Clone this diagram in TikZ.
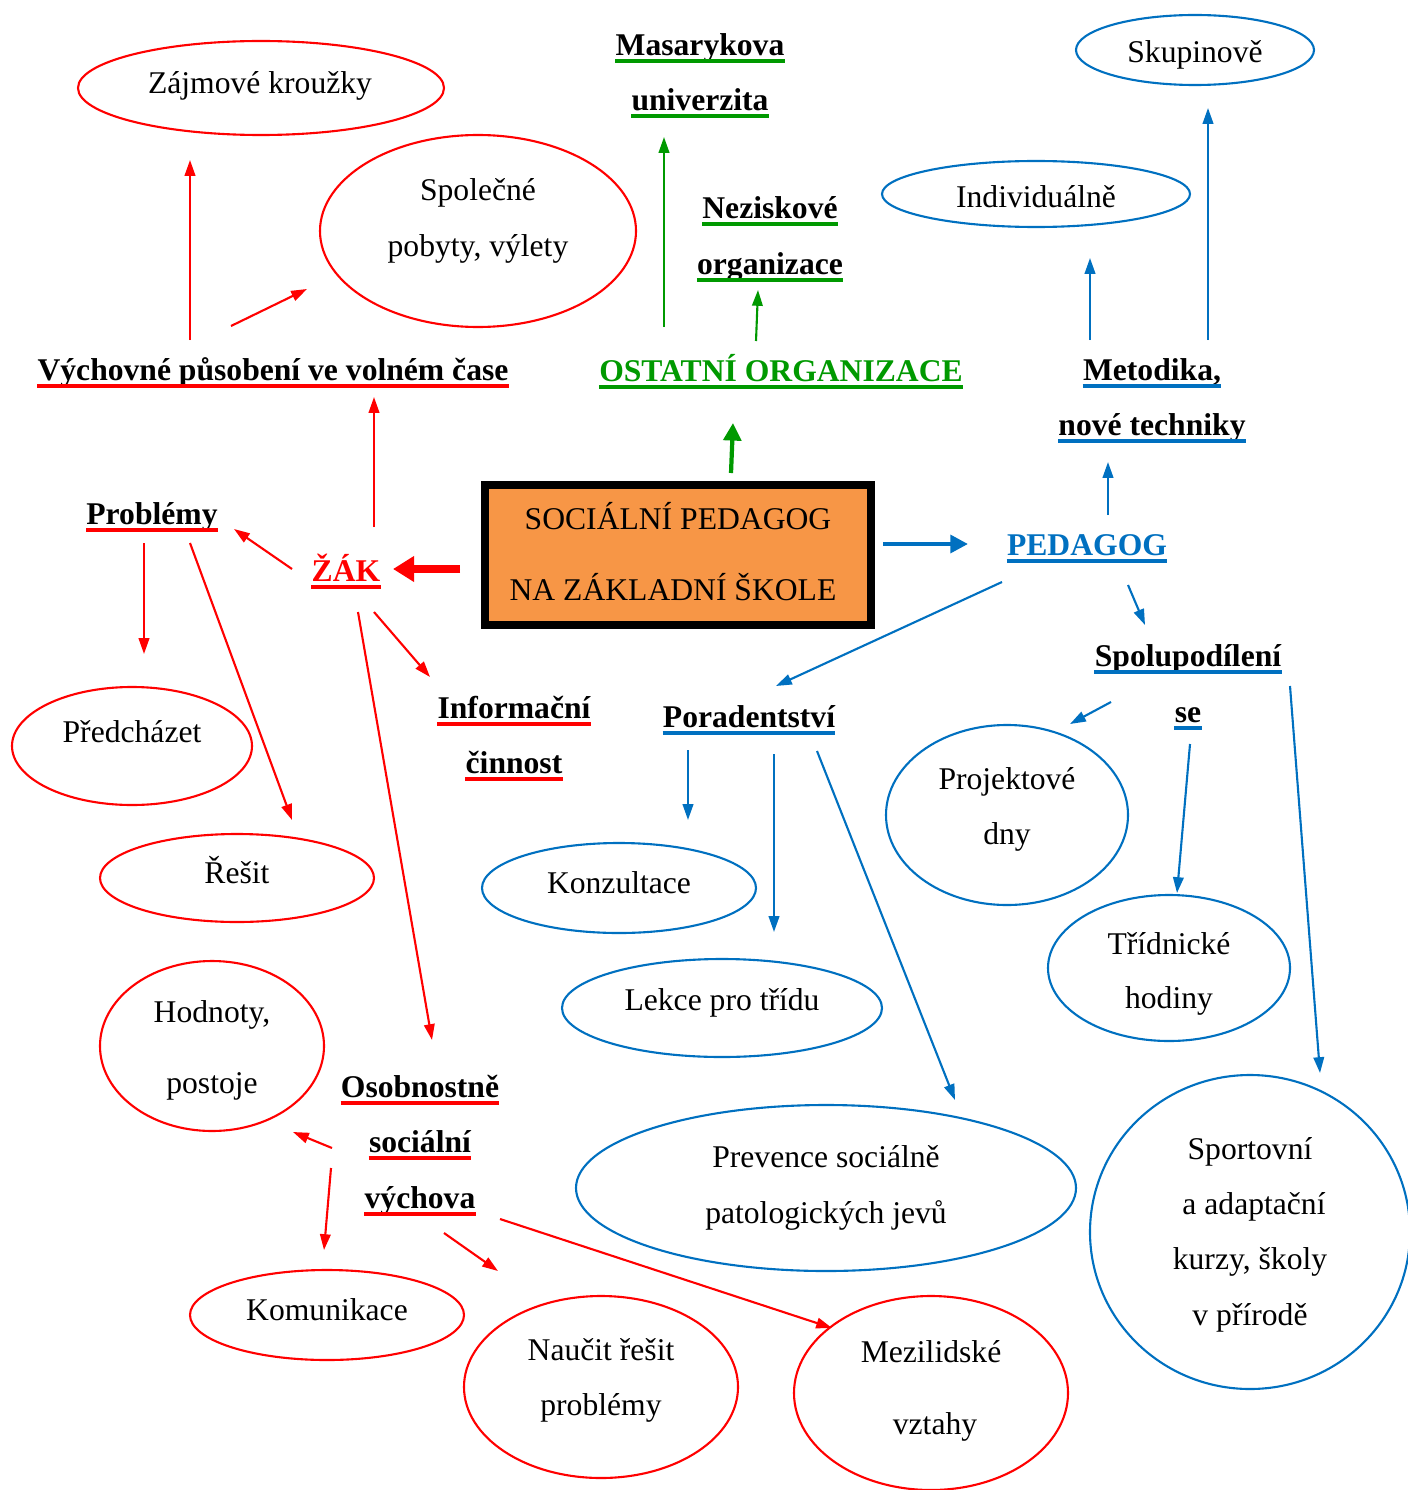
\documentclass[tikz,border=0pt]{standalone}
\usepackage{fontspec}
\setmainfont{Liberation Serif}
\usetikzlibrary{arrows.meta,shapes.geometric}
\definecolor{rd}{RGB}{255,0,0}
\definecolor{gr}{RGB}{0,153,0}
\definecolor{bl}{RGB}{0,112,192}
\definecolor{org}{RGB}{247,150,70}
\newcommand\ulline[2]{\draw[#2,line width=2.2pt] ([yshift=-2.9pt]#1.base west) -- ([yshift=-2.9pt]#1.base east);}
\begin{document}
\begin{tikzpicture}[x=0.02cm,y=-0.02cm,
  txt/.style={inner sep=0pt, anchor=base, yshift=-1.1pt, font=\fontsize{18}{22}\selectfont},
  lab/.style={inner sep=0pt, anchor=base, yshift=-1.1pt, font=\fontsize{18}{22}\selectfont\bfseries},
  ell/.style={draw=#1, line width=1.2pt, ellipse, inner sep=0pt},
  arr/.style={draw=#1, line width=1.2pt, -{Triangle[length=9pt,width=6pt]}, fill=#1},
  thk/.style={draw=#1, line width=2.4pt, -{Triangle[length=10pt,width=10pt]}, fill=#1}]
\useasboundingbox (0,0) rectangle (1408,1490);

% ---------- ellipses (red) ----------
\node[ell=rd, minimum width=366*0.02cm, minimum height=94*0.02cm] (e1) at (261,88) {};
\node[ell=rd, minimum width=316*0.02cm, minimum height=192*0.02cm] (e2) at (478,231) {};
\node[ell=rd, minimum width=240*0.02cm, minimum height=118*0.02cm] (e3) at (132,746) {};
\node[ell=rd, minimum width=274*0.02cm, minimum height=88*0.02cm] (e4) at (237,878) {};
\node[ell=rd, minimum width=224*0.02cm, minimum height=170*0.02cm] (e5) at (212,1046) {};
\node[ell=rd, minimum width=274*0.02cm, minimum height=90*0.02cm] (e6) at (327,1315) {};
\node[ell=rd, minimum width=274*0.02cm, minimum height=182*0.02cm] (e7) at (601,1387) {};
\node[ell=rd, minimum width=274*0.02cm, minimum height=194*0.02cm] (e8) at (931,1393) {};
% ---------- ellipses (blue) ----------
\node[ell=bl, minimum width=238*0.02cm, minimum height=70*0.02cm] (b1) at (1195,50) {};
\node[ell=bl, minimum width=308*0.02cm, minimum height=66*0.02cm] (b2) at (1036,194) {};
\node[ell=bl, minimum width=242*0.02cm, minimum height=180*0.02cm] (b3) at (1007,815) {};
\node[ell=bl, minimum width=242*0.02cm, minimum height=146*0.02cm] (b4) at (1169,968) {};
\node[ell=bl, minimum width=274*0.02cm, minimum height=90*0.02cm] (b5) at (619,888) {};
\node[ell=bl, minimum width=320*0.02cm, minimum height=98*0.02cm] (b6) at (722,1008) {};
\node[ell=bl, minimum width=500*0.02cm, minimum height=166*0.02cm] (b7) at (826,1188) {};
\node[ell=bl, minimum width=320*0.02cm, minimum height=314*0.02cm] (b8) at (1250,1232) {};

% ---------- ellipse texts ----------
\node[txt] (t1) at (260,92) {Zájmové kroužky};
\node[txt] (t2a) at (478,199) {Společné};
\node[txt] (t2b) at (478,255) {pobyty, výlety};
\node[txt] (t3) at (132,741) {Předcházet};
\node[txt] (t4) at (237,882) {Řešit};
\node[txt] (t5a) at (212,1021) {Hodnoty,};
\node[txt] (t5b) at (212,1092) {postoje};
\node[txt] (t6) at (327,1319) {Komunikace};
\node[txt] (t7a) at (601,1359) {Naučit řešit};
\node[txt] (t7b) at (601,1414) {problémy};
\node[txt] (t8a) at (931,1361) {Mezilidské};
\node[txt] (t8b) at (935,1433) {vztahy};
\node[txt] (u1) at (1195,61) {Skupinově};
\node[txt] (u2) at (1036,206) {Individuálně};
\node[txt] (u3a) at (1007,788) {Projektové};
\node[txt] (u3b) at (1007,843) {dny};
\node[txt] (u4a) at (1169,953) {Třídnické};
\node[txt] (u4b) at (1169,1007) {hodiny};
\node[txt] (u5) at (619,892) {Konzultace};
\node[txt] (u6) at (722,1009) {Lekce pro třídu};
\node[txt] (u7a) at (826,1166) {Prevence sociálně};
\node[txt] (u7b) at (826,1222) {patologických jevů};
\node[txt] (u8a) at (1250,1158) {Sportovní};
\node[txt] (u8b) at (1254,1213) {a adaptační};
\node[txt] (u8c) at (1250,1268) {kurzy, školy};
\node[txt] (u8d) at (1250,1324) {v přírodě};

% ---------- central box ----------
\node[draw=black, line width=4.4pt, fill=org, minimum width=386*0.02cm, minimum height=140*0.02cm, inner sep=0pt] (box) at (678,555) {};
\node[txt] (c1) at (678,528) {SOCIÁLNÍ PEDAGOG};
\node[txt] (c2) at (673,599) {NA ZÁKLADNÍ ŠKOLE};

% ---------- labels ----------
\node[lab] (vych) at (273,379) {Výchovné působení ve volném čase}; \ulline{vych}{rd}
\node[lab] (prob) at (152,523) {Problémy}; \ulline{prob}{rd}
\node[lab,text=rd] (zak) at (346,580) {ŽÁK}; \ulline{zak}{rd}
\node[lab] (inf1) at (514,717) {Informační}; \ulline{inf1}{rd}
\node[lab] (inf2) at (514,772) {činnost}; \ulline{inf2}{rd}
\node[lab] (os1) at (420,1096) {Osobnostně}; \ulline{os1}{rd}
\node[lab] (os2) at (420,1151) {sociální}; \ulline{os2}{rd}
\node[lab] (os3) at (420,1207) {výchova}; \ulline{os3}{rd}
\node[lab] (mu1) at (700,54) {Masarykova}; \ulline{mu1}{gr}
\node[lab] (mu2) at (700,109) {univerzita}; \ulline{mu2}{gr}
\node[lab] (nz1) at (770,217) {Neziskové}; \ulline{nz1}{gr}
\node[lab] (nz2) at (770,273) {organizace}; \ulline{nz2}{gr}
\node[lab,text=gr] (ost) at (781,380) {OSTATNÍ ORGANIZACE}; \ulline{ost}{gr}
\node[lab] (me1) at (1152,379) {Metodika,}; \ulline{me1}{bl}
\node[lab] (me2) at (1152,434) {nové techniky}; \ulline{me2}{bl}
\node[lab,text=bl] (ped) at (1087,554) {PEDAGOG}; \ulline{ped}{bl}
\node[lab] (sp1) at (1188,665) {Spolupodílení}; \ulline{sp1}{bl}
\node[lab] (sp2) at (1188,721) {se}; \ulline{sp2}{bl}
\node[lab] (por) at (749,726) {Poradentství}; \ulline{por}{bl}

% ---------- connector end points (free ends) ----------
\coordinate (vA) at (190,340);  \coordinate (zaA) at (190,160);
\coordinate (vB) at (231,326);  \coordinate (spA) at (307,289);
\coordinate (zU) at (374,527);  \coordinate (vyD) at (374,397);
\coordinate (zL) at (292,569);  \coordinate (prD) at (234,529);
\coordinate (boxL) at (460,569); \coordinate (zR) at (393,569);
\coordinate (zD1) at (374,612); \coordinate (inU) at (430,677);
\coordinate (zD2) at (358,612); \coordinate (osU) at (432,1040);
\coordinate (pD1) at (144,543); \coordinate (pcU) at (144,654);
\coordinate (pD2) at (190,543); \coordinate (reU) at (292,820);
\coordinate (oL1) at (332,1148); \coordinate (hoR) at (293,1132);
\coordinate (oL2) at (331,1168); \coordinate (koU) at (324,1250);
\coordinate (oD1) at (444,1233); \coordinate (naU) at (498,1271);
\coordinate (oD2) at (500,1219); \coordinate (meU) at (832,1328);
\coordinate (oA) at (664,327);  \coordinate (maD) at (664,137);
\coordinate (oB) at (756,341);  \coordinate (nzD) at (758,290);
\coordinate (boxU) at (731,473); \coordinate (osD) at (733,423);
\coordinate (boxR) at (883,544); \coordinate (peL) at (968,544);
\coordinate (pU) at (1108,515); \coordinate (mtD) at (1108,462);
\coordinate (mA) at (1090,340); \coordinate (indD) at (1090,258);
\coordinate (mB) at (1208,340); \coordinate (skD) at (1208,108);
\coordinate (pDL) at (1002,582); \coordinate (poU) at (776,686);
\coordinate (pDR) at (1128,585); \coordinate (sU) at (1145,625);
\coordinate (rD1) at (688,750); \coordinate (knU) at (688,820);
\coordinate (rD2) at (774,754); \coordinate (leU) at (774,932);
\coordinate (rD3) at (817,751); \coordinate (prvU) at (955,1100);
\coordinate (sL) at (1111,702); \coordinate (pjU) at (1070,724);
\coordinate (sD) at (1190,744); \coordinate (trU) at (1177,893);
\coordinate (sR) at (1290,686); \coordinate (soU) at (1320,1073);

% ---------- red arrows ----------
\draw[arr=rd] (vA) -- (zaA);
\draw[arr=rd] (vB) -- (spA);
\draw[arr=rd] (zU) -- (vyD);
\draw[arr=rd] (zL) -- (prD);
\draw[draw=rd, fill=rd, line width=4pt, -{Triangle[length=12pt,width=14pt]}] (boxL) -- (zR);
\draw[arr=rd] (zD1) -- (inU);
\draw[arr=rd] (zD2) -- (osU);
\draw[arr=rd] (pD1) -- (pcU);
\draw[arr=rd] (pD2) -- (reU);
\draw[arr=rd] (oL1) -- (hoR);
\draw[arr=rd] (oL2) -- (koU);
\draw[arr=rd] (oD1) -- (naU);
\draw[arr=rd] (oD2) -- (meU);
% ---------- green arrows ----------
\draw[arr=gr] (oA) -- (maD);
\draw[arr=gr] (oB) -- (nzD);
\draw[thk=gr] (boxU) -- (osD);
% ---------- blue arrows ----------
\draw[thk=bl] (boxR) -- (peL);
\draw[arr=bl] (pU) -- (mtD);
\draw[arr=bl] (mA) -- (indD);
\draw[arr=bl] (mB) -- (skD);
\draw[arr=bl] (pDL) -- (poU);
\draw[arr=bl] (pDR) -- (sU);
\draw[arr=bl] (rD1) -- (knU);
\draw[arr=bl] (rD2) -- (leU);
\draw[arr=bl] (rD3) -- (prvU);
\draw[arr=bl] (sL) -- (pjU);
\draw[arr=bl] (sD) -- (trU);
\draw[arr=bl] (sR) -- (soU);
\end{tikzpicture}
\end{document}
